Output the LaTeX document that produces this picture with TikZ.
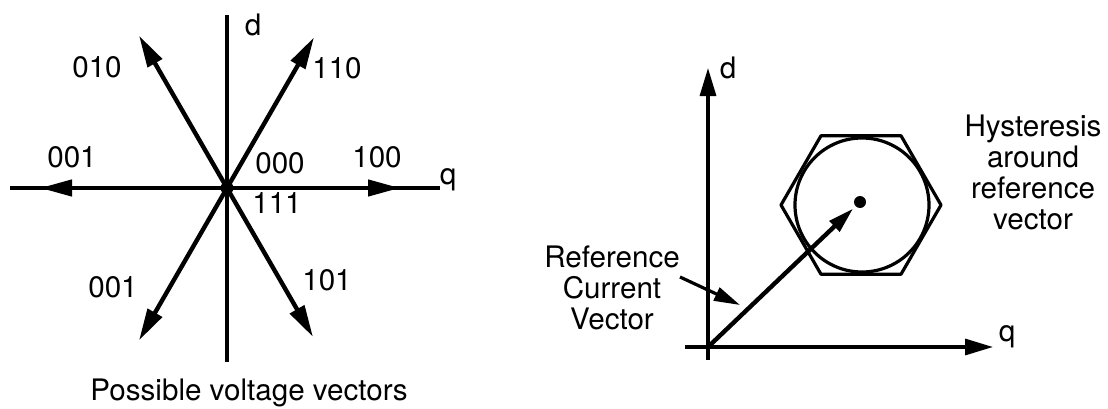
\documentclass[tikz,border=0pt]{standalone}
\usepackage{fontspec}
\setmainfont{TeX Gyre Heros}
\usetikzlibrary{arrows.meta,calc}
\tikzset{
  vec/.style={line width=2.2pt,-{Triangle[length=16pt,width=8pt]}},
  ax/.style={line width=1.6pt},
  lab/.style={font=\fontsize{14.8}{15.5}\selectfont,inner sep=0pt},
  blk/.style={lab,align=center},
  dotn/.style={circle,fill,inner sep=0pt,minimum size=6pt}
}
\begin{document}
\begin{tikzpicture}[x=0.5pt,y=0.5pt]
  \useasboundingbox (0,0) rectangle (1108,408);
  % possible voltage vectors
  \coordinate (O) at (227,220);
  \coordinate (dtop) at (227,393); \coordinate (dbot) at (227,46);
  \coordinate (qleft) at (10,220); \coordinate (qright) at (440,220);
  \draw[ax] (dbot) -- (dtop);
  \draw[ax] (qleft) -- (qright);
  \foreach \a/\r/\n in {0/173/v100,60/174/v110,120/176/v010,180/187/v001a,240/176/v001b,300/172/v101}{
    \coordinate (\n) at ($(O)+(\a:\r)$);
    \draw[vec] (O) -- (\n);}
  \node[dotn,minimum size=6.5pt] (Odot) at (O) {};
  \node[lab] (ld) at (253,383) {d};
  \node[lab] (lq) at (448,228) {q};
  \node[lab] (l010) at (97,341) {010};
  \node[lab] (l110) at (337,340) {110};
  \node[lab] (l001a) at (72,251) {001};
  \node[lab] (l100) at (377,251) {100};
  \node[lab] (l000) at (280,245) {000};
  \node[lab] (l111) at (277,205) {111};
  \node[lab] (l001b) at (113,121) {001};
  \node[lab] (l101) at (327,128) {101};
  \node[lab] (cap) at (249,15) {Possible voltage vectors};
  % hysteresis around the reference vector
  \coordinate (P) at (708,61);
  \coordinate (Pd) at (708,340); \coordinate (Pdb) at (708,48);
  \coordinate (Pq) at (993,61); \coordinate (Pql) at (685,61);
  \draw[ax,-{Triangle[length=14pt,width=8pt]}] (Pdb) -- (Pd);
  \draw[ax,-{Triangle[length=14pt,width=8pt]}] (Pql) -- (Pq);
  \node[lab] (rd) at (728,340) {d};
  \node[lab] (rq) at (1007,71) {q};
  \coordinate (H) at (861,203);
  \draw[ax,line join=round] ($(H)+(0:80)$) \foreach \a in {60,120,...,300}{-- ($(H)+(\a:80)$)} -- cycle;
  \coordinate (C) at (862,203);
  \draw[ax] (C) circle[radius=67];
  \node[dotn] (ref) at (860,206) {};
  \draw[vec,-{Triangle[length=13pt,width=7pt]},shorten >=1.5pt] (P) -- (ref);
  \node[blk] (rcv) at (612,120) {Reference\\Current\\Vector};
  \coordinate (a1) at (680,131); \coordinate (a2) at (740,103);
  \draw[ax,-{Triangle[length=13pt,width=7pt]}] (a1) -- (a2);
  \node[blk] (hyst) at (1033,236) {Hysteresis\\around\\reference\\vector};
\end{tikzpicture}
\end{document}
